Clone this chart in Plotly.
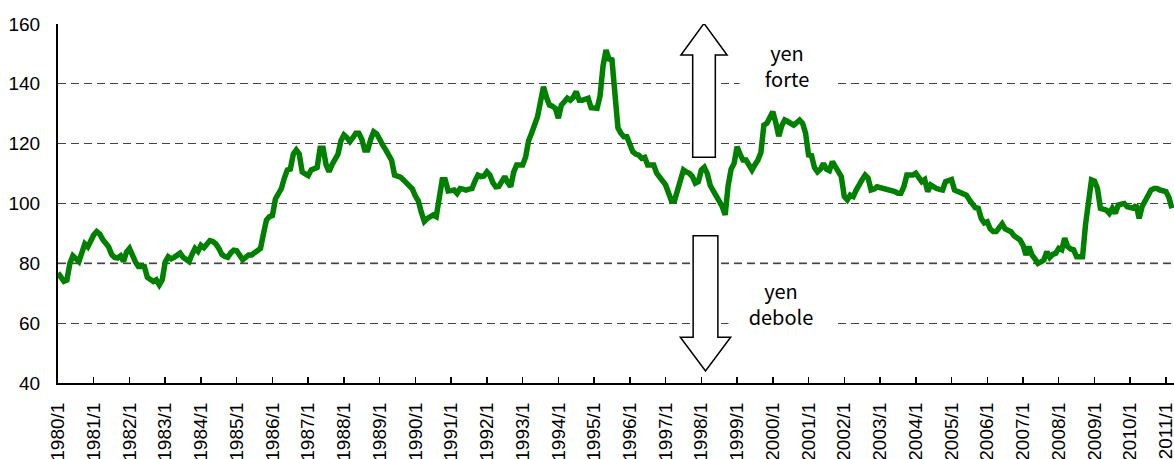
import plotly.graph_objects as go

# Monthly index values, 1980/1 .. 2011/3
rate_1980s = [
    76.8, 75.5, 74.0, 74.4, 80.0, 82.5, 81.8, 80.6, 83.5, 86.5, 85.5, 88.0,        # 1980
    89.5, 90.6, 89.8, 88.0, 86.8, 85.5, 83.0, 82.0, 81.8, 82.5, 80.6, 83.8,        # 1981
    85.0, 82.5, 80.5, 78.9, 78.9, 78.9, 75.3, 74.5, 73.9, 74.5, 72.8, 74.5,        # 1982
    80.5, 82.2, 81.5, 82.0, 83.0, 83.4, 82.0, 81.2, 80.6, 83.0, 85.0, 84.0,        # 1983
    86.0, 85.2, 86.5, 87.6, 87.3, 86.5, 85.0, 83.0, 82.3, 82.0, 83.5, 84.4,        # 1984
    84.2, 82.8, 81.2, 82.0, 82.8, 82.8, 83.5, 84.5, 85.0, 90.0, 94.5, 95.6,        # 1985
    96.0, 101.5, 103.5, 105.0, 108.5, 111.2, 111.5, 116.5, 117.9, 116.5, 110.5, 110.0,  # 1986
    109.3, 111.2, 111.5, 112.0, 118.5, 118.5, 113.0, 110.6, 113.0, 115.1, 116.5, 121.0,  # 1987
    122.9, 122.0, 120.7, 122.0, 123.5, 123.5, 121.5, 117.9, 117.9, 121.5, 124.0, 123.3,  # 1988
    121.0, 119.6, 118.0, 116.5, 114.5, 109.5, 109.3, 108.8, 107.9, 107.0, 105.5, 104.8,  # 1989
]
rate_1990s = [
    102.5, 100.8, 97.0, 94.0, 95.0, 95.5, 96.2, 95.6, 101.0, 107.9, 107.9, 104.2,   # 1990
    104.3, 104.5, 103.4, 105.0, 104.8, 104.5, 104.8, 105.0, 107.5, 109.5, 109.0, 109.2,  # 1991
    110.6, 109.5, 107.0, 105.6, 105.7, 107.0, 109.0, 107.0, 105.6, 110.5, 112.9, 112.9,  # 1992
    112.9, 115.5, 121.0, 123.5, 126.5, 129.0, 134.0, 139.0, 135.5, 132.9, 132.5, 131.8,  # 1993
    128.5, 132.9, 134.0, 135.2, 134.5, 135.5, 137.4, 134.5, 134.5, 134.8, 135.2, 132.0,  # 1994
    131.8, 131.8, 136.0, 146.0, 151.3, 148.3, 148.0, 136.0, 125.3, 123.5, 122.3, 122.3,  # 1995
    119.5, 117.3, 116.5, 116.2, 115.1, 115.4, 112.9, 112.9, 112.9, 110.1, 109.0, 107.5,  # 1996
    106.2, 103.5, 100.8, 101.0, 104.5, 108.4, 111.2, 110.5, 110.1, 109.0, 106.8, 107.3,  # 1997
    111.2, 112.1, 110.0, 106.0, 104.5, 102.3, 100.8, 99.0, 96.2, 106.0, 111.5, 113.4,    # 1998
    119.0, 116.5, 114.5, 114.5, 113.0, 111.2, 113.0, 114.5, 117.0, 126.2, 126.8, 128.5,  # 1999
]
rate_2000s = [
    130.7, 127.0, 122.5, 126.0, 127.9, 127.4, 127.0, 126.2, 127.0, 127.9, 126.8, 123.5,  # 2000
    116.2, 116.0, 112.0, 110.6, 111.5, 113.4, 111.5, 111.0, 114.0, 112.5, 111.2, 109.0,  # 2001
    102.3, 101.2, 102.8, 102.3, 104.5, 106.8, 108.0, 109.5, 108.5, 104.5, 104.8, 105.6,  # 2002
    105.3, 105.0, 105.0, 104.8, 104.5, 104.0, 103.4, 103.4, 105.6, 109.5, 109.5, 109.5,  # 2003
    110.1, 108.6, 107.3, 108.0, 104.0, 106.2, 105.5, 105.0, 104.7, 104.5, 107.3, 107.5,  # 2004
    108.0, 104.5, 104.0, 103.4, 103.0, 102.8, 101.2, 99.5, 98.6, 98.4, 95.0, 93.5,       # 2005
    93.9, 91.5, 90.6, 90.6, 91.8, 93.2, 91.5, 91.0, 90.6, 89.2, 88.5, 87.8,              # 2006
    86.1, 82.8, 85.6, 82.8, 81.5, 80.0, 80.5, 81.1, 83.9, 82.0, 83.0, 83.4,              # 2007
    85.0, 84.5, 88.4, 85.6, 84.8, 84.5, 82.2, 82.2, 82.2, 93.0, 100.5, 107.9,            # 2008
    107.5, 105.0, 98.4, 98.0, 97.8, 96.7, 98.4, 96.7, 99.5, 99.8, 100.0, 98.9,           # 2009
]
rate_2010s = [
    98.8, 98.4, 99.5, 95.0, 99.0, 101.2, 103.4, 104.5, 105.0, 105.0, 104.5, 104.2,       # 2010
    104.0, 102.0, 98.4,                                                                   # 2011
]

values = rate_1980s + rate_1990s + rate_2000s + rate_2010s
years = list(range(1980, 2012))
tick_labels = [f"{y}/1" for y in years]
month_index = list(range(len(values)))
tick_positions = [12 * i for i in range(len(years))]

LINE_GREEN = "#008000"
TICK_FONT = "Liberation Sans, Arial, sans-serif"
NOTE_FONT = "Noto Sans CJK JP, sans-serif"

fig = go.Figure()
fig.add_trace(go.Scatter(
    x=month_index, y=values, mode="lines",
    line=dict(color=LINE_GREEN, width=5.5),
    hoverinfo="skip", showlegend=False,
))

# Gray overlay for the 80 gridline (it appears lighter/thicker in the original)
fig.add_shape(type="line", xref="paper", yref="y", x0=0, x1=1, y0=80, y1=80,
              line=dict(color="#808080", width=2, dash="8px,5px"), layer="below")

# Arrows (outline, white fill)
up_c, up_sh, up_hd = 216.9, 3.8, 7.75
up_path = (f"M {up_c-up_sh},115.45 L {up_c-up_sh},149.6 L {up_c-up_hd},149.6 "
           f"L {up_c},160.2 L {up_c+up_hd},149.6 L {up_c+up_sh},149.6 "
           f"L {up_c+up_sh},115.45 Z")
dn_c, dn_sh, dn_hd = 217.4, 4.15, 8.45
dn_path = (f"M {dn_c-dn_sh},89.2 L {dn_c-dn_sh},55.3 L {dn_c-dn_hd},55.3 "
           f"L {dn_c},44.0 L {dn_c+dn_hd},55.3 L {dn_c+dn_sh},55.3 "
           f"L {dn_c+dn_sh},89.2 Z")
for p in (up_path, dn_path):
    fig.add_shape(type="path", path=p, xref="x", yref="y",
                  line=dict(color="black", width=1.5), fillcolor="white", layer="above")

fig.add_annotation(x=244.7, y=146.3, xref="x", yref="y", text="yen<br>forte",
                   showarrow=False, bgcolor="white", width=92, height=58,
                   font=dict(family=NOTE_FONT, size=20, color="black"))
fig.add_annotation(x=242.7, y=66.85, xref="x", yref="y", text="yen<br>debole",
                   showarrow=False, bgcolor="white", width=102, height=58,
                   font=dict(family=NOTE_FONT, size=20, color="black"))

fig.update_layout(
    width=1174, height=459,
    margin=dict(l=58, r=0, t=24, b=76, autoexpand=False),
    paper_bgcolor="white", plot_bgcolor="white",
    font=dict(family=TICK_FONT, size=19, color="black"),
    showlegend=False,
)
fig.update_xaxes(
    range=[0, 374.7], tickmode="array", tickvals=tick_positions, ticktext=tick_labels,
    tickangle=-90, ticks="inside", ticklen=6, tickwidth=1.5, tickcolor="black",
    showline=True, linecolor="black", linewidth=2, showgrid=False, zeroline=False,
    ticklabelstandoff=10, ticklabeloverflow="allow", automargin=False,
    tickfont=dict(family=TICK_FONT, size=19, color="black"),
)
fig.update_yaxes(
    range=[40, 160], tickmode="linear", tick0=40, dtick=20,
    showline=True, linecolor="black", linewidth=2,
    showgrid=True, gridcolor="#444444", gridwidth=1.2, griddash="8px,5px",
    zeroline=False, ticks="", ticklabelstandoff=12, automargin=False,
    tickfont=dict(family=TICK_FONT, size=19, color="black"),
)

# Remove the default page margin / scrollbars so the figure fills the window exactly.
page_fix = ("document.body.style.margin='0';"
            "document.body.style.padding='0';"
            "document.body.style.overflow='hidden';"
            "document.documentElement.style.overflow='hidden';")
fig.write_html("out.html", post_script=page_fix,
               config={"displayModeBar": False, "staticPlot": True})
